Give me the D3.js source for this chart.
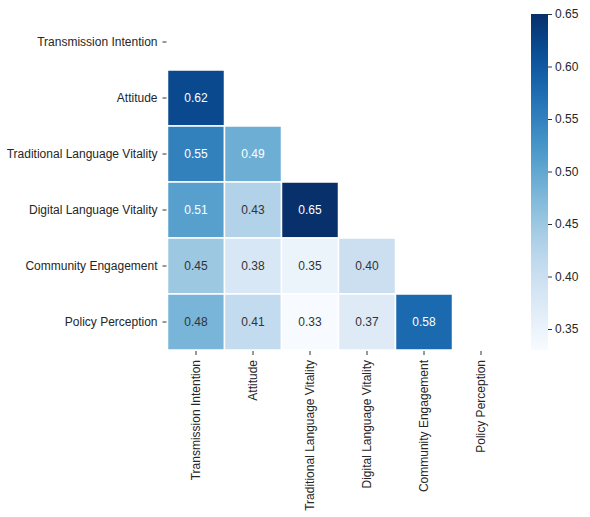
<!DOCTYPE html>
<html>
<head>
<meta charset="utf-8">
<script src="https://cdn.jsdelivr.net/npm/d3@7"></script>
<style>
  body { margin: 0; background: #fff; }
  text { font-family: "Liberation Sans", Arial, sans-serif; }
</style>
</head>
<body>
<svg id="chart" width="590" height="517"></svg>
<script>
const variables = ["Transmission Intention", "Attitude", "Traditional Language Vitality",
  "Digital Language Vitality", "Community Engagement", "Policy Perception"];
// lower triangle correlation values, row i, columns 0..i-1
const rowAttitude = [0.62];
const rowTraditional = [0.55, 0.49];
const rowDigital = [0.51, 0.43, 0.65];
const rowCommunity = [0.45, 0.38, 0.35, 0.40];
const rowPolicy = [0.48, 0.41, 0.33, 0.37, 0.58];
const lowerRows = [[], rowAttitude, rowTraditional, rowDigital, rowCommunity, rowPolicy];
const colorTicks = [0.35, 0.40, 0.45, 0.50, 0.55, 0.60, 0.65];
const vmin = 0.33, vmax = 0.65;

const cells = [];
lowerRows.forEach((row, i) => row.forEach((v, j) => cells.push({r: variables[i], c: variables[j], v})));

const svg = d3.select("#chart");
const pLeft = 167.5, pRight = 509.5, pTop = 14, pBottom = 350;
const fs = 12;

const x = d3.scaleBand().domain(variables).range([pLeft, pRight]);
const y = d3.scaleBand().domain(variables).range([pTop, pBottom]);
const color = d3.scaleSequential(d3.interpolateBlues).domain([vmin, vmax]);

const g = svg.append("g");
g.selectAll("rect.cell").data(cells).enter().append("rect")
  .attr("class", "cell")
  .attr("x", d => x(d.c)).attr("y", d => y(d.r))
  .attr("width", x.bandwidth()).attr("height", y.bandwidth())
  .attr("fill", d => color(d.v))
  .attr("stroke", "#fff").attr("stroke-width", 1.5);

g.selectAll("text.ann").data(cells).enter().append("text")
  .attr("class", "ann")
  .attr("x", d => x(d.c) + x.bandwidth() / 2)
  .attr("y", d => y(d.r) + y.bandwidth() / 2)
  .attr("text-anchor", "middle").attr("dominant-baseline", "central")
  .attr("font-size", fs)
  .attr("fill", d => d.v >= 0.485 ? "#ffffff" : "#333333")
  .text(d => d.v.toFixed(2));

// Y axis
const yAxis = d3.axisLeft(y).tickSize(4).tickPadding(5);
const ya = svg.append("g").attr("transform", `translate(${pLeft - 1},0)`).call(yAxis);
ya.select(".domain").remove();
ya.selectAll(".tick line").attr("stroke", "#333").attr("stroke-width", 1);
ya.selectAll(".tick text").attr("font-size", fs).attr("fill", "#262626")
  .attr("font-family", '"Liberation Sans", Arial, sans-serif');

// X axis
const xAxis = d3.axisBottom(x).tickSize(4).tickPadding(3);
const xa = svg.append("g").attr("transform", `translate(0,${pBottom + 1})`).call(xAxis);
xa.select(".domain").remove();
xa.selectAll(".tick line").attr("stroke", "#333").attr("stroke-width", 1);
xa.selectAll(".tick text").attr("font-size", fs).attr("fill", "#262626")
  .attr("font-family", '"Liberation Sans", Arial, sans-serif')
  .attr("transform", "rotate(-90)")
  .attr("text-anchor", "end")
  .attr("x", -9).attr("y", 0).attr("dy", "0.35em");

// Colorbar
const cbX = 531, cbW = 17;
const cbScale = d3.scaleLinear().domain([vmin, vmax]).range([pBottom, pTop]);
const defs = svg.append("defs");
const grad = defs.append("linearGradient").attr("id", "cbgrad")
  .attr("x1", 0).attr("y1", 1).attr("x2", 0).attr("y2", 0);
d3.range(0, 1.0001, 0.05).forEach(t => {
  grad.append("stop").attr("offset", t).attr("stop-color", d3.interpolateBlues(t));
});
svg.append("rect").attr("x", cbX).attr("y", pTop).attr("width", cbW).attr("height", pBottom - pTop)
  .attr("fill", "url(#cbgrad)");
const cbAxis = d3.axisRight(cbScale).tickValues(colorTicks).tickFormat(d3.format(".2f")).tickSize(4).tickPadding(3);
const ca = svg.append("g").attr("transform", `translate(${cbX + cbW},0)`).call(cbAxis);
ca.select(".domain").remove();
ca.selectAll(".tick line").attr("stroke", "#333");
ca.selectAll(".tick text").attr("font-size", fs).attr("fill", "#262626")
  .attr("font-family", '"Liberation Sans", Arial, sans-serif');
</script>
</body>
</html>
